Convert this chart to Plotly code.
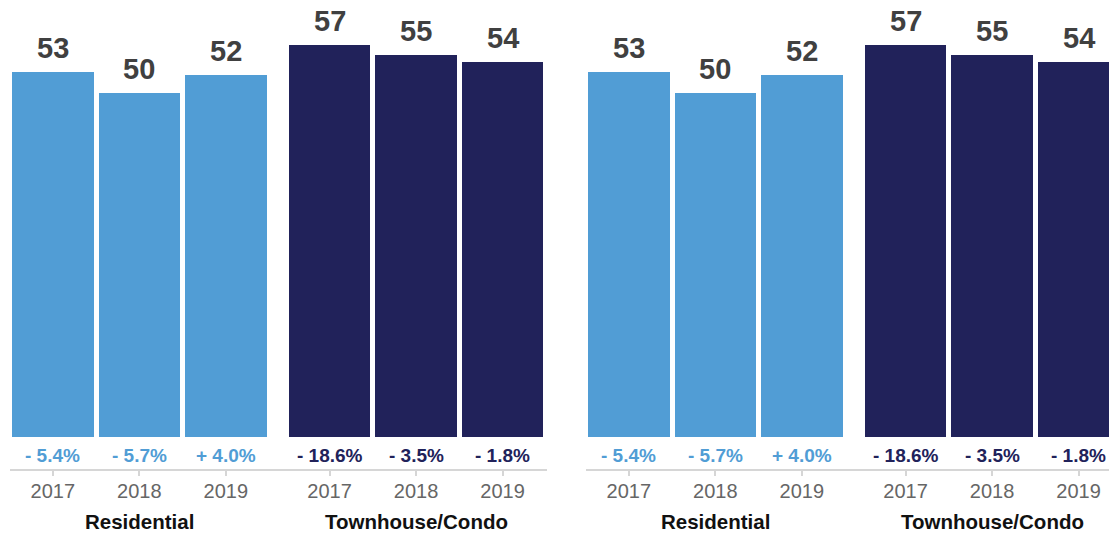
import plotly.graph_objects as go

# ---- data ----
groups = ["Residential", "Townhouse/Condo"]
years = ["2017", "2018", "2019"]
residential_values = [52.8, 49.8, 52.3]
condo_values = [56.7, 55.3, 54.2]
residential_change = [-5.4, -5.7, 4.0]
condo_change = [-18.6, -3.5, -1.8]

values = [residential_values, condo_values]
changes = [residential_change, condo_change]
colors = ["#519dd5", "#21225a"]

W, H = 1109, 535
GAP = 0.2          # extra spacing between groups, in category units
BAR_W = 0.942
PX_UNIT = 86.5
Y_RANGE = [-4.54, 63.19]
PCT_Y = -2.7

panels = [
    dict(x0=10, x1=547),
    dict(x0=586, x1=1109),
]

fig = go.Figure()
annotations = []

def fmt_change(v):
    return f"{'-' if v < 0 else '+'} {abs(v):.1f}%"

for p_i, pan in enumerate(panels):
    xa = "x" if p_i == 0 else f"x{p_i+1}"
    ya = "y" if p_i == 0 else f"y{p_i+1}"
    tickvals, ticktext = [], []
    for g_i, g in enumerate(groups):
        pos = [g_i * (len(years) + GAP) + i for i in range(len(years))]
        fig.add_trace(go.Bar(
            x=pos, y=values[g_i], width=BAR_W,
            marker=dict(color=colors[g_i], line=dict(width=0)),
            xaxis=xa, yaxis=ya, showlegend=False, hoverinfo="skip",
        ))
        tickvals += pos
        ticktext += years
        for xi, v, c in zip(pos, values[g_i], changes[g_i]):
            annotations.append(dict(
                x=xi, y=v, xref=xa, yref=ya, text=f"<b>{round(v)}</b>",
                showarrow=False, yanchor="bottom", yshift=6,
                font=dict(family="Liberation Sans, Arial", size=29, color="#404040"),
            ))
            annotations.append(dict(
                x=xi, y=PCT_Y, xref=xa, yref=ya, text=f"<b>{fmt_change(c)}</b>",
                showarrow=False, yanchor="middle",
                font=dict(family="Liberation Sans, Arial", size=19, color=colors[g_i]),
            ))
        annotations.append(dict(
            x=sum(pos) / len(pos), y=(H - 521) / H, xref=xa, yref="paper",
            text=f"<b>{g}</b>", showarrow=False, yanchor="middle",
            font=dict(family="Liberation Sans, Arial", size=20.5, color="#111111"),
        ))
    width_px = pan["x1"] - pan["x0"]
    x_start = -0.495
    fig.update_layout(**{
        ("xaxis" if p_i == 0 else f"xaxis{p_i+1}"): dict(
            domain=[pan["x0"] / W, pan["x1"] / W],
            range=[x_start, x_start + width_px / PX_UNIT],
            anchor=ya,
            tickvals=tickvals, ticktext=ticktext,
            showline=True, linecolor="#d6d6d6", linewidth=2,
            ticks="outside", ticklen=5, tickwidth=2, tickcolor="#d6d6d6",
            ticklabelstandoff=-2,
            showgrid=False, zeroline=False, fixedrange=True,
            tickfont=dict(family="Liberation Sans, Arial", size=20, color="#666666"),
        ),
        ("yaxis" if p_i == 0 else f"yaxis{p_i+1}"): dict(
            domain=[(H - 468.7) / H, 1],
            range=Y_RANGE, anchor=xa,
            visible=False, showgrid=False, zeroline=False, fixedrange=True,
        ),
    })

fig.update_layout(
    width=W, height=H,
    margin=dict(l=0, r=0, t=0, b=0),
    paper_bgcolor="white", plot_bgcolor="white",
    bargap=0, annotations=annotations,
)

fig.write_html("out.html", config={"displayModeBar": False})
